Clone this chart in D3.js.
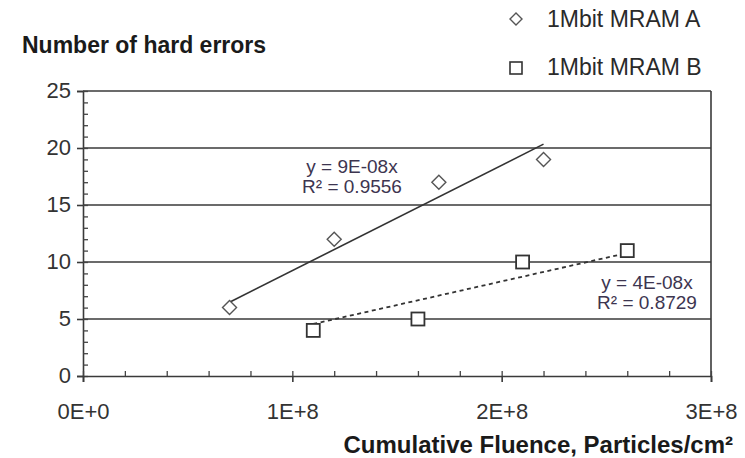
<!DOCTYPE html>
<html lang="en">
<head>
  <meta charset="UTF-8">
  <title>Hard errors vs fluence</title>
  <script src="https://d3js.org/d3.v7.min.js"></script>
  <style>
    body { margin: 0; background: #fff; }
    svg text { font-family: Arial, "Liberation Sans", Helvetica, sans-serif; }
  </style>
</head>
<body>
  <script>
    // 1. Data
    const fluenceA = [7e7, 1.2e8, 1.7e8, 2.2e8];
    const errorsA  = [6, 12, 17, 19];
    const fluenceB = [1.1e8, 1.6e8, 2.1e8, 2.6e8];
    const errorsB  = [4, 5, 10, 11];
    const seriesNames = ["1Mbit MRAM A", "1Mbit MRAM B"];
    const xTicks = [0, 1e8, 2e8, 3e8];
    const xTickLabels = ["0E+0", "1E+8", "2E+8", "3E+8"];
    const yTicks = [0, 5, 10, 15, 20, 25];
    const eqA = ["y = 9E-08x", "R\u00b2 = 0.9556"];
    const eqB = ["y = 4E-08x", "R\u00b2 = 0.8729"];

    // trendline through the origin (least squares), like the spreadsheet does
    function slope(xs, ys) {
      return d3.sum(xs, (x, i) => x * ys[i]) / d3.sum(xs, x => x * x);
    }

    // 2. SVG Canvas
    const width = 745, height = 458;
    const svg = d3.select("body")
                  .append("svg")
                  .attr("width", width)
                  .attr("height", height)
                  .attr("font-family", "Arial, 'Liberation Sans', sans-serif");

    // 3. Scales
    const x = d3.scaleLinear().domain([0, 3e8]).range([83, 711]);
    const y = d3.scaleLinear().domain([0, 25]).range([376, 91]);

    // 4. Grid lines
    svg.append("g")
       .selectAll("line")
       .data(yTicks.slice(1))
       .join("line")
       .attr("x1", x(0)).attr("x2", x(3e8))
       .attr("y1", d => y(d)).attr("y2", d => y(d))
       .attr("stroke", "#3a3a3a")
       .attr("stroke-width", 1.6);

    // right border
    svg.append("line")
       .attr("x1", x(3e8)).attr("x2", x(3e8))
       .attr("y1", y(25)).attr("y2", y(0))
       .attr("stroke", "#3a3a3a")
       .attr("stroke-width", 1.6);

    // 5. Axes
    const tickLabel = g => g.selectAll("text")
      .attr("fill", "#333")
      .attr("font-family", "Arial, 'Liberation Sans', sans-serif")
      .style("font-size", "22px");

    // y axis: major ticks outside, minor inside
    svg.append("g")
       .attr("transform", `translate(${x(0)},0)`)
       .call(d3.axisLeft(y).tickValues(yTicks).tickSize(6).tickPadding(6))
       .call(g => g.select(".domain").attr("stroke", "#3a3a3a").attr("stroke-width", 1.6))
       .call(g => g.selectAll("line").attr("stroke", "#3a3a3a").attr("stroke-width", 1.6))
       .call(tickLabel)
       .call(g => g.selectAll("text").attr("dy", "0.3em"));

    svg.append("g")
       .attr("transform", `translate(${x(0)},0)`)
       .call(d3.axisRight(y).tickValues(d3.range(0, 26, 1)).tickSize(5).tickFormat(""))
       .call(g => g.select(".domain").remove())
       .call(g => g.selectAll("line").attr("stroke", "#444").attr("stroke-width", 1.3));

    // x axis: major ticks cross, minor point up
    svg.append("g")
       .attr("transform", `translate(0,${y(0)})`)
       .call(d3.axisBottom(x).tickValues(xTicks).tickSize(6).tickPadding(37)
               .tickFormat((d, i) => xTickLabels[i]))
       .call(g => g.select(".domain").attr("stroke", "#3a3a3a").attr("stroke-width", 1.6))
       .call(g => g.selectAll("line").attr("stroke", "#3a3a3a").attr("stroke-width", 1.6))
       .call(tickLabel)
       .call(g => g.selectAll("text").attr("dy", "0"));

    svg.append("g")
       .attr("transform", `translate(0,${y(0)})`)
       .call(d3.axisTop(x).tickValues(d3.range(0, 3.01e8, 2e7)).tickSize(5).tickFormat(""))
       .call(g => g.select(".domain").remove())
       .call(g => g.selectAll("line").attr("stroke", "#444").attr("stroke-width", 1.3));

    // 6. Trend lines
    const mA = slope(fluenceA, errorsA);
    const mB = slope(fluenceB, errorsB);
    const line = d3.line().x(d => x(d[0])).y(d => y(d[1]));

    svg.append("path")
       .datum(d3.extent(fluenceA).map(f => [f, mA * f]))
       .attr("fill", "none")
       .attr("stroke", "#333")
       .attr("stroke-width", 1.6)
       .attr("d", line);

    svg.append("path")
       .datum(d3.extent(fluenceB).map(f => [f, mB * f]))
       .attr("fill", "none")
       .attr("stroke", "#333")
       .attr("stroke-width", 1.8)
       .attr("stroke-dasharray", "4,3.5")
       .attr("d", line);

    // 7. Markers
    const diamond = r => `M0,${-r}L${r},0L0,${r}L${-r},0Z`;
    svg.append("g")
       .selectAll("path")
       .data(fluenceA.map((f, i) => [f, errorsA[i]]))
       .join("path")
       .attr("transform", d => `translate(${x(d[0])},${y(d[1])})`)
       .attr("d", diamond(7))
       .attr("fill", "#fff")
       .attr("stroke", "#555")
       .attr("stroke-width", 1.4);

    svg.append("g")
       .selectAll("rect")
       .data(fluenceB.map((f, i) => [f, errorsB[i]]))
       .join("rect")
       .attr("x", d => x(d[0]) - 6.5)
       .attr("y", d => y(d[1]) - 6.5)
       .attr("width", 13)
       .attr("height", 13)
       .attr("fill", "#fff")
       .attr("stroke", "#333")
       .attr("stroke-width", 1.8);

    // 8. Equation labels
    function equation(lines, cx, cy) {
      svg.append("text")
         .attr("text-anchor", "middle")
         .attr("fill", "#3d3550")
         .style("font-size", "19px")
         .selectAll("tspan")
         .data(lines)
         .join("tspan")
         .attr("x", cx)
         .attr("y", (d, i) => cy + i * 20)
         .text(d => d);
    }
    equation(eqA, 352, 173);
    equation(eqB, 647, 289);

    // 9. Titles
    svg.append("text")
       .attr("x", 22).attr("y", 53)
       .attr("fill", "#1a1a1a")
       .style("font-size", "23px")
       .style("font-weight", "bold")
       .text("Number of hard errors");

    svg.append("text")
       .attr("x", 733).attr("y", 453)
       .attr("text-anchor", "end")
       .attr("fill", "#1a1a1a")
       .style("font-size", "24px")
       .style("font-weight", "bold")
       .text("Cumulative Fluence, Particles/cm\u00b2");

    // 10. Legend
    const legend = svg.append("g");
    legend.append("path")
          .attr("transform", "translate(516,19)")
          .attr("d", diamond(6))
          .attr("fill", "#fff").attr("stroke", "#555").attr("stroke-width", 1.4);
    legend.append("rect")
          .attr("x", 510).attr("y", 62).attr("width", 12).attr("height", 12)
          .attr("fill", "#fff").attr("stroke", "#333").attr("stroke-width", 1.6);
    legend.selectAll("text")
          .data(seriesNames)
          .join("text")
          .attr("x", 547)
          .attr("y", (d, i) => 27 + i * 48)
          .attr("fill", "#2a2a2a")
          .style("font-size", "23px")
          .text(d => d);
  </script>
</body>
</html>
